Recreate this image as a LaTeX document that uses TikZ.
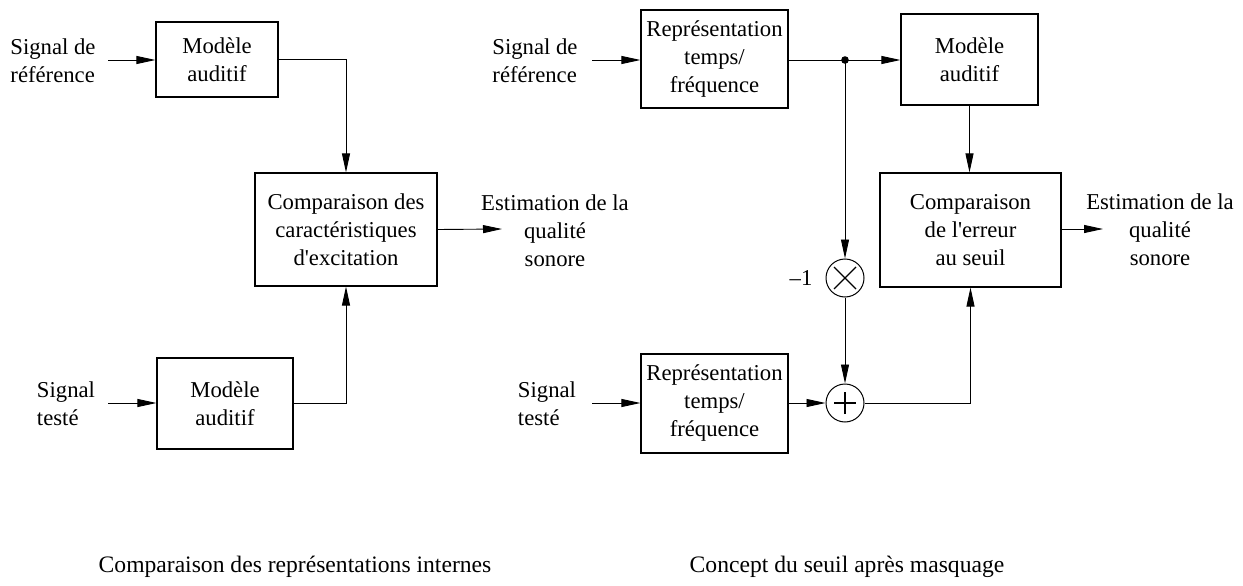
\documentclass[tikz,border=0pt]{standalone}
\usepackage{fontspec}
\setmainfont{Liberation Serif}
\usetikzlibrary{arrows.meta}
\begin{document}
\begin{tikzpicture}[x=1pt,y=-1pt,
  every node/.style={font=\fontsize{22.7}{28}\selectfont, inner sep=0pt},
  blk/.style={draw, line width=1.1pt, align=center},
  lbl/.style={align=center},
  lbll/.style={align=left},
  captxt/.style={font=\fontsize{23.6}{28}\selectfont},
  sumop/.style={draw, circle, line width=1pt, minimum size=38pt},
  arr/.style={line width=0.9pt, -{Triangle[length=19pt,width=8pt]}},
  ln/.style={line width=0.9pt},
  sym/.style={line width=1.3pt}]
\useasboundingbox (0,0) rectangle (1243,586);

% ---------- left: comparison of internal representations ----------
\node[blk, minimum width=122pt, minimum height=75pt] (L1) at (217,59.5) {Modèle\\auditif};
\node[blk, minimum width=182pt, minimum height=113pt] (L2) at (346,229.5)
  {Comparaison des\\caractéristiques\\d\textquotesingle excitation};
\node[blk, minimum width=136pt, minimum height=91pt] (L3) at (225,403.5) {Modèle\\auditif};

\node[lbll] (sL1) at (53,61) {Signal de\\référence};
\node[lbll] (sL3) at (66,404) {Signal\\testé};
\node[lbl] (eL) at (555,231) {Estimation de la\\qualité\\sonore};

\coordinate (iL1) at (108,60);
\coordinate (iL3) at (108,403);
\coordinate (oL) at (502,229);

\draw[arr] (iL1) -- (iL1 -| L1.west);
\draw[arr] (iL3) -- (iL3 -| L3.west);
\draw[arr] (L1.east) -| (L2.north);
\draw[arr] (L3.east) -| (L2.south);
\draw[arr] (L2.east) -- (oL);

\node[captxt] (cL) at (295,567) {Comparaison des représentations internes};

% ---------- right: masked threshold concept ----------
\node[blk, minimum width=147pt, minimum height=98pt] (R1) at (714.5,59)
  {Représentation\\temps/\\fréquence};
\node[blk, minimum width=137pt, minimum height=91pt] (R2) at (969.5,59.5) {Modèle\\auditif};
\node[blk, minimum width=181pt, minimum height=114pt] (R3) at (970.5,230)
  {Comparaison\\de l\textquotesingle erreur\\au seuil};
\node[blk, minimum width=147pt, minimum height=99pt] (R4) at (714.5,403.5)
  {Représentation\\temps/\\fréquence};

\node[sumop] (mul) at (845,278) {};
\node[sumop] (add) at (845,403) {};
\draw[sym] ([shift={(-11,-11)}]mul.center) -- ([shift={(11,11)}]mul.center)
           ([shift={(-11,11)}]mul.center) -- ([shift={(11,-11)}]mul.center);
\draw[sym] ([xshift=-11pt]add.center) -- ([xshift=11pt]add.center)
           ([yshift=-11pt]add.center) -- ([yshift=11pt]add.center);
\node (m1) at (801,278) {–1};

\coordinate (dot) at (845,60);
\fill (dot) circle (3.8pt);

\node[lbll] (sR1) at (535,61) {Signal de\\référence};
\node[lbll] (sR4) at (547,404) {Signal\\testé};
\node[lbl] (eR) at (1160,230) {Estimation de la\\qualité\\sonore};

\coordinate (iR1) at (592,60);
\coordinate (iR4) at (592,403);
\coordinate (oR) at (1103,229);

\draw[arr] (iR1) -- (iR1 -| R1.west);
\draw[arr] (iR4) -- (iR4 -| R4.west);
\draw[ln] (R1.east |- dot) -- (dot);
\draw[arr] (dot) -- (dot -| R2.west);
\draw[arr] (dot) -- (mul.north);
\draw[arr] (mul.south) -- (add.north);
\draw[arr] (R4.east |- add.west) -- (add.west);
\draw[arr] (add.east) -| (R3.south);
\draw[arr] (R2.south) -- (R2.south |- R3.north);
\draw[arr] (R3.east |- oR) -- (oR);

\node[captxt] (cR) at (847,567) {Concept du seuil après masquage};
\end{tikzpicture}
\end{document}
